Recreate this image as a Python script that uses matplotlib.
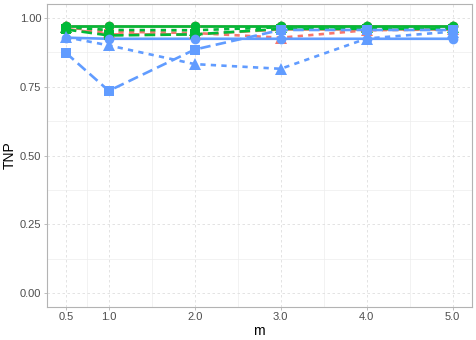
import matplotlib
matplotlib.use('agg')
import matplotlib.pyplot as plt
import numpy as np

plt.rcParams['font.family'] = ['Liberation Sans', 'DejaVu Sans']

# data
m = [0.5, 1.0, 2.0, 3.0, 4.0, 5.0]
xticklabels = ["0.5", "1.0", "2.0", "3.0", "4.0", "5.0"]

red_solid = [0.970, 0.970, 0.970, 0.970, 0.970, 0.970]
red_dotted = [0.965, 0.950, 0.945, 0.928, 0.955, 0.958]
red_dashed = [0.960, 0.940, 0.940, 0.958, 0.958, 0.958]

green_solid = [0.972, 0.972, 0.972, 0.972, 0.972, 0.972]
green_dotted = [0.966, 0.956, 0.955, 0.966, 0.966, 0.966]
green_dashed = [0.958, 0.936, 0.940, 0.960, 0.960, 0.960]

blue_solid = [0.928, 0.924, 0.924, 0.924, 0.924, 0.924]
blue_dotted = [0.930, 0.900, 0.832, 0.815, 0.925, 0.950]
blue_dashed = [0.873, 0.735, 0.885, 0.956, 0.956, 0.956]

RED = '#F8766D'
GREEN = '#00BA38'
BLUE = '#619CFF'

series = [
    (red_solid, RED, '-', 'o'),
    (red_dotted, RED, (0, (2, 2)), '^'),
    (red_dashed, RED, (0, (4, 2)), 's'),
    (green_solid, GREEN, '-', 'o'),
    (green_dotted, GREEN, (0, (2, 2)), '^'),
    (green_dashed, GREEN, (0, (4, 2)), 's'),
    (blue_solid, BLUE, '-', 'o'),
    (blue_dotted, BLUE, (0, (2, 2)), '^'),
    (blue_dashed, BLUE, (0, (4, 2)), 's'),
]

fig = plt.figure(figsize=(4.76, 3.4), dpi=100)
ax = fig.add_axes([0.0977, 0.097, 0.8939, 0.891])

# lines first, then points (like ggplot layers)
for vals, col, ls, mk in series:
    ax.plot(m, vals, color=col, linestyle=ls, linewidth=1.9, zorder=3)
for vals, col, ls, mk in series:
    ms = 8 if mk == '^' else 7
    ax.plot(m, vals, color=col, linestyle='none', marker=mk, markersize=ms,
            markeredgewidth=0, zorder=4)

ax.set_xlim(0.275, 5.225)
ax.set_ylim(-0.05, 1.05)
ax.set_xticks(m)
ax.set_xticklabels(xticklabels)
ax.set_yticks([0, 0.25, 0.5, 0.75, 1.0])
ax.set_yticklabels(["0.00", "0.25", "0.50", "0.75", "1.00"])
ax.set_xticks([0.75, 1.5, 2.5, 3.5, 4.5], minor=True)
ax.set_yticks([0.125, 0.375, 0.625, 0.875], minor=True)

ax.grid(which='major', color='#DEDEDE', linestyle=(0, (3, 3)), linewidth=0.6, zorder=0)
ax.grid(which='minor', color='#EDEDED', linestyle='-', linewidth=0.5, zorder=0)
ax.set_axisbelow(True)

for sp in ax.spines.values():
    sp.set_color('#B3B3B3')
    sp.set_linewidth(0.8)

ax.tick_params(which='major', length=2.2, width=0.6, color='#B3B3B3',
               labelsize=8, labelcolor='#4D4D4D', pad=1.5)
ax.tick_params(which='minor', length=0)

ax.set_xlabel("m", fontsize=10, labelpad=1)
ax.set_ylabel("TNP", fontsize=10, labelpad=2)

plt.savefig("out.png", dpi=100)
